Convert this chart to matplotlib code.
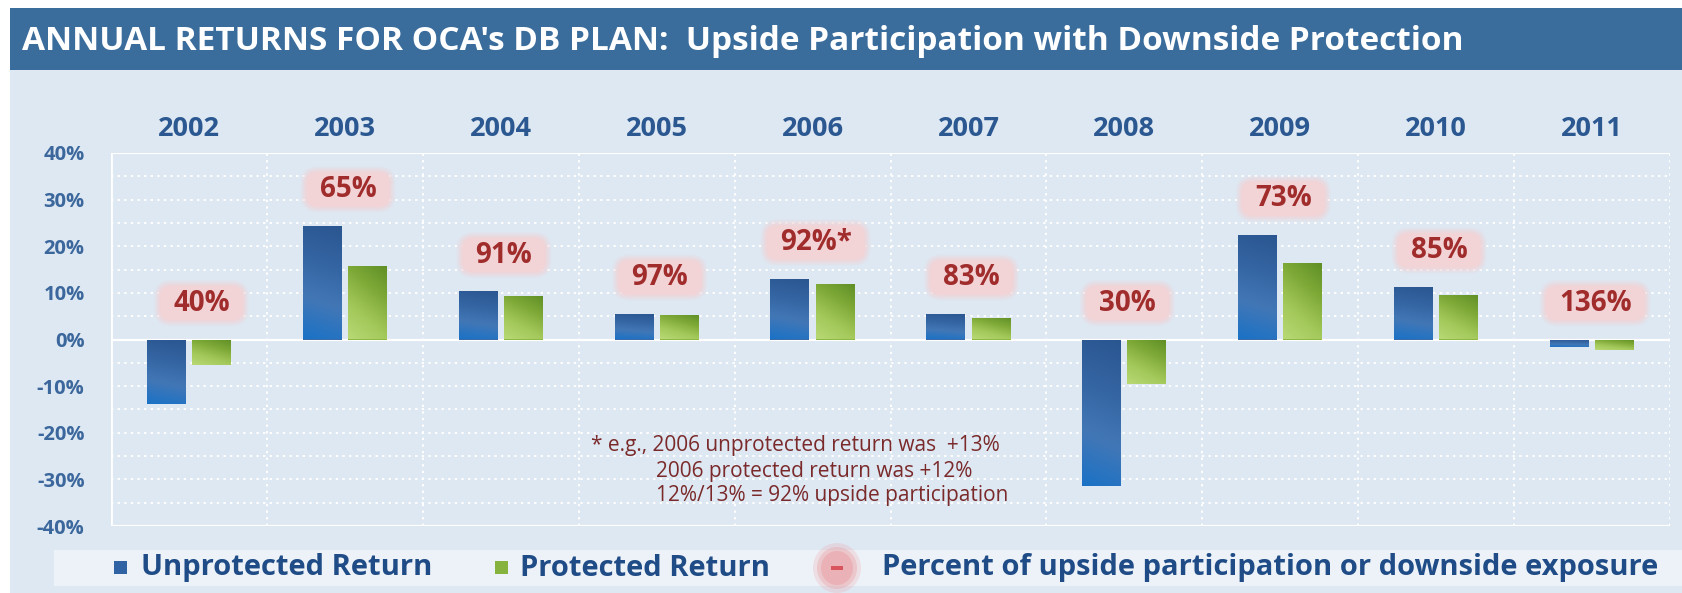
import matplotlib
matplotlib.use("Agg")
import matplotlib.pyplot as plt
import numpy as np
from matplotlib.patches import Rectangle, Ellipse, FancyBboxPatch
from matplotlib.colors import LinearSegmentedColormap

# ---------------- data ----------------
years = ["2002", "2003", "2004", "2005", "2006", "2007", "2008", "2009", "2010", "2011"]
unprotected = [-13.8, 24.4, 10.3, 5.5, 13.0, 5.5, -31.5, 22.4, 11.3, -1.7]
protected = [-5.5, 15.7, 9.4, 5.3, 12.0, 4.6, -9.5, 16.4, 9.6, -2.3]
participation = ["40%", "65%", "91%", "97%", "92%*", "83%", "30%", "73%", "85%", "136%"]
yticks = [-40, -30, -20, -10, 0, 10, 20, 30, 40]
title = "ANNUAL RETURNS FOR OCA's DB PLAN:  Upside Participation with Downside Protection"
legend_labels = ["Unprotected Return", "Protected Return",
                 "Percent of upside participation or downside exposure"]
footnote = ["* e.g., 2006 unprotected return was  +13%",
            "2006 protected return was +12%",
            "12%/13% = 92% upside participation"]

# ---------------- style ----------------
plt.rcParams['font.family'] = ['Open Sans', 'DejaVu Sans']
W, H = 1682, 593
fig = plt.figure(figsize=(W / 100, H / 100), dpi=100, facecolor='white')

BG = '#dee8f2'
BAND = '#3b6d9c'
YEAR_C = '#2b5891'
TICK_C = '#3b679c'
RED = '#a02c2c'
PINK = '#f2d3d6'
LEG_C = '#1f4c86'

# background area below title band
fig.patches.append(Rectangle((10 / W, 0), 1 - 10 / W, 1 - 70 / H, transform=fig.transFigure,
                             facecolor=BG, edgecolor='none', zorder=-3))
# title band
fig.patches.append(Rectangle((10 / W, 1 - 70 / H), 1 - 10 / W, 62 / H, transform=fig.transFigure,
                             facecolor=BAND, edgecolor='none', zorder=-2))
fig.text(22 / W, 1 - 41 / H, title, color='white', fontsize=24, fontweight='bold',
         va='center', ha='left', zorder=2)
# legend band
fig.patches.append(Rectangle((54 / W, 7 / H), 1 - 54 / W, 36 / H, transform=fig.transFigure,
                             facecolor='#edf2f8', edgecolor='none', zorder=-2))

ax = fig.add_axes([111 / W, 1 - 526 / H, (1670 - 111) / W, (526 - 153) / H])
ax.set_zorder(1)
ax.set_facecolor(BG)
for s in ax.spines.values():
    s.set_visible(False)

x = np.arange(len(years))
bw = 0.25
off = 0.145
b1 = ax.bar(x - off, unprotected, bw, color='#3a6aa8', zorder=3)
b2 = ax.bar(x + off, protected, bw, color='#8db845', zorder=3)

# gradients
blue_cmap = LinearSegmentedColormap.from_list('b', ['#2a5690', '#3464a2', '#4277b6', '#1b72c6'])
green_cmap = LinearSegmentedColormap.from_list('g', ['#5f8f26', '#7faa38', '#a3c85a', '#b8d874'])

def grad_img(kind):
    yy = np.linspace(0, 1, 64)[:, None]
    xx = np.linspace(0, 1, 16)[None, :]
    if kind == 'b':
        v = yy * 0.9 + (1 - xx) * 0.1
    else:
        v = yy * 0.7 + (1 - xx) * 0.3
    return np.clip(v, 0, 1)

for bars, cmap, kind in ((b1, blue_cmap, 'b'), (b2, green_cmap, 'g')):
    for p in bars:
        x0, y0, w, h = p.get_x(), p.get_y(), p.get_width(), p.get_height()
        ylo, yhi = min(y0, y0 + h), max(y0, y0 + h)
        im = ax.imshow(grad_img(kind), cmap=cmap, extent=[x0, x0 + w, ylo, yhi],
                       origin='upper', aspect='auto', zorder=3.5, vmin=0, vmax=1)
        im.set_clip_path(p)

ax.set_xlim(-0.5, len(years) - 0.5)
ax.set_ylim(-40, 40)

# grid
for v in np.arange(-35, 40, 5):
    if v == 0:
        continue
    ax.axhline(v, color='white', lw=1.4, ls=(0, (1.2, 2.2)), zorder=1)
for v in (0, 40, -40):
    ax.axhline(v, color='white', lw=1.6, zorder=2)
for i in range(1, len(years)):
    ax.axvline(i - 0.5, color='white', lw=1.4, ls=(0, (1.2, 2.2)), zorder=1)
ax.axvline(-0.5, color='white', lw=2, zorder=2)
ax.axvline(len(years) - 0.5, color='white', lw=1.4, ls=(0, (1.2, 2.2)), zorder=1)

# ticks
ax.set_yticks(yticks)
ax.set_yticklabels([f"{t}%" for t in yticks])
ax.tick_params(axis='y', length=0, pad=19, labelsize=14.5, labelcolor=TICK_C)
for t in ax.get_yticklabels():
    t.set_fontweight('bold')
ax.set_xticks(x)
ax.set_xticklabels(years)
ax.tick_params(axis='x', top=True, labeltop=True, bottom=False, labelbottom=False,
               length=0, pad=8, labelsize=19.5, labelcolor=YEAR_C)
for t in ax.get_xticklabels():
    t.set_fontweight('bold')

# participation labels
texts = []
for i, lab in enumerate(participation):
    top = max(unprotected[i], protected[i], 0)
    t = ax.text(x[i] + (0.08 if i == 0 else 0.02), top + 7.8, lab, ha='center', va='center',
                color=RED, fontsize=20, fontweight='bold', zorder=6)
    texts.append(t)

fig.canvas.draw()
r = fig.canvas.get_renderer()
inv = ax.transData.inverted()
px_x = (ax.get_xlim()[1] - ax.get_xlim()[0]) / ax.bbox.width
px_y = (ax.get_ylim()[1] - ax.get_ylim()[0]) / ax.bbox.height
aspect = px_y / px_x
for t in texts:
    bb = t.get_window_extent(r)
    cx, cy = inv.transform(((bb.x0 + bb.x1) / 2, (bb.y0 + bb.y1) / 2))
    tw = bb.width
    for grow, alpha in ((6, 0.2), (4, 0.35), (2, 0.55), (0, 1.0)):
        wpx = tw + 26 + 2 * grow
        hpx = 34 + 2 * grow
        wd, hd = wpx * px_x, hpx * px_y
        rs = (11 + grow) * px_x
        ax.add_patch(FancyBboxPatch((cx - wd / 2, cy - hd / 2), wd, hd,
                                    boxstyle=f'round,pad=0,rounding_size={rs}',
                                    mutation_aspect=aspect, fc=PINK, ec='none',
                                    alpha=alpha, zorder=5))

# footnote
fn_c = '#7a2a2a'
fig.text(591 / W, 1 - 446 / H, footnote[0], color=fn_c, fontsize=15, va='center', ha='left', zorder=3)
fig.text(656 / W, 1 - 471 / H, footnote[1], color=fn_c, fontsize=15, va='center', ha='left', zorder=3)
fig.text(656 / W, 1 - 496 / H, footnote[2], color=fn_c, fontsize=15, va='center', ha='left', zorder=3)

# legend
ly = 1 - 568 / H
fig.patches.append(Rectangle((114 / W, ly - 6 / H), 13 / W, 13 / H, transform=fig.transFigure,
                             facecolor='#2f63a3', edgecolor='none', zorder=3))
fig.text(141 / W, ly, legend_labels[0], color=LEG_C, fontsize=21, fontweight='bold',
         va='center', ha='left', zorder=3)
fig.patches.append(Rectangle((495 / W, ly - 6 / H), 13 / W, 13 / H, transform=fig.transFigure,
                             facecolor='#86b23e', edgecolor='none', zorder=3))
fig.text(520 / W, ly, legend_labels[1], color=LEG_C, fontsize=21, fontweight='bold',
         va='center', ha='left', zorder=3)
for rr, a in ((48, 0.25), (40, 0.4), (32, 0.6)):
    fig.patches.append(Ellipse((837 / W, ly), rr / W, (rr + 2) / H, transform=fig.transFigure,
                               facecolor='#eaa4a8', edgecolor='none', alpha=a, zorder=3))
fig.patches.append(Rectangle((831 / W, ly - 2 / H), 12 / W, 4 / H, transform=fig.transFigure,
                             facecolor='#d9545c', edgecolor='none', zorder=4))
fig.text(882 / W, ly, legend_labels[2], color=LEG_C, fontsize=21, fontweight='bold',
         va='center', ha='left', zorder=3)

fig.savefig('out.png', dpi=100, facecolor='white')
